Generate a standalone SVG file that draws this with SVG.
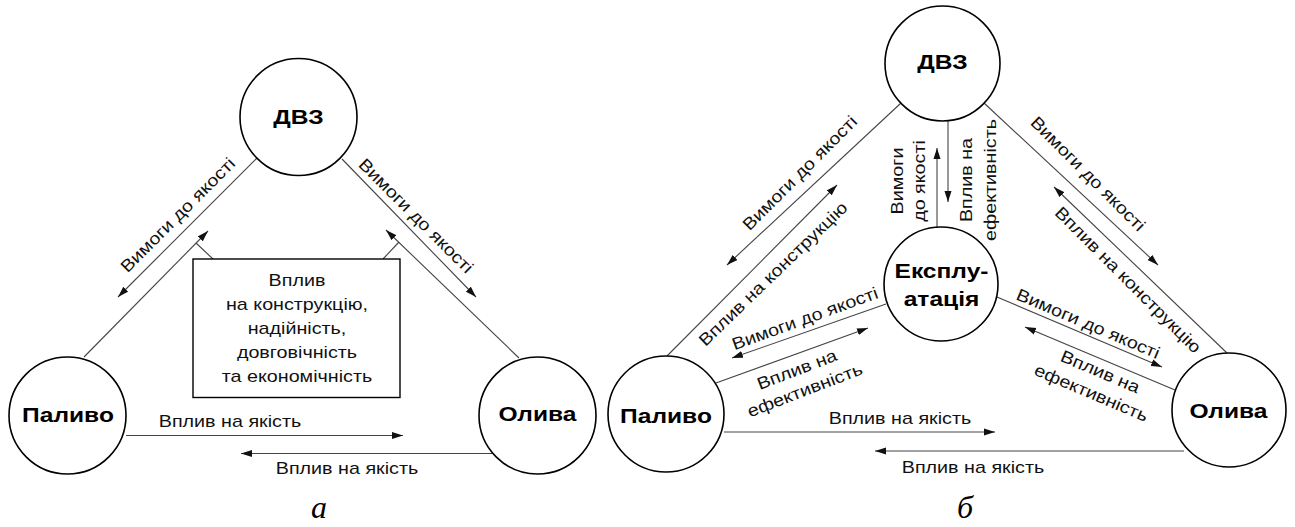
<svg xmlns="http://www.w3.org/2000/svg" width="1295" height="527" viewBox="0 0 1295 527">
<style>
.bg{fill:#fff}
.node{fill:#fff;stroke:#000;stroke-width:1.6}
.box{fill:#fff;stroke:#000;stroke-width:1.4}
.c{fill:none;stroke:#444;stroke-width:1.1}
.ca{fill:none;stroke:#444;stroke-width:1.1;marker-end:url(#ah)}
.t{font-family:"Liberation Sans",Arial,sans-serif;font-size:17px;fill:#111;text-anchor:middle}
.b{font-family:"Liberation Sans",Arial,sans-serif;font-size:21px;font-weight:bold;fill:#000;text-anchor:middle}
.cap{font-family:"Liberation Serif","Times New Roman",serif;font-size:32px;font-style:italic;fill:#000;text-anchor:middle}
</style>
<defs>
<marker id="ah" markerUnits="userSpaceOnUse" markerWidth="12" markerHeight="8" refX="11" refY="4" orient="auto">
<path d="M0,0.5 L11,4 L0,7.5 z" fill="#111"/>
</marker>
</defs>
<rect class="bg" x="0" y="0" width="1295" height="527"/>

<g id="connectors">
<path class="ca" d="M257,158 L118,297"/>
<path class="ca" d="M84,357 L208,231"/>
<path class="c" d="M213,259 L196,243"/>
<path class="ca" d="M342,159 L476,297"/>
<path class="ca" d="M519,358 L386,230"/>
<path class="c" d="M383,259 L399,242"/>
<path class="ca" d="M126,435.5 L403,435.5"/>
<path class="ca" d="M492,453.5 L241,453.5"/>
<path class="ca" d="M901,103 L727,265"/>
<path class="ca" d="M667,356 L837,185"/>
<path class="ca" d="M984,103 L1158,265"/>
<path class="ca" d="M1227,353 L1054,187"/>
<path class="ca" d="M937,227 L937,148"/>
<path class="ca" d="M948,121 L948,202"/>
<path class="ca" d="M886,304 L732,358"/>
<path class="ca" d="M716,383 L868,328"/>
<path class="ca" d="M997,297 L1162,367"/>
<path class="ca" d="M1175,390 L1025,327"/>
<path class="ca" d="M724,432 L995,432"/>
<path class="ca" d="M1184,451 L875,451"/>
</g>

<g id="labels">
<text class="t" transform="translate(182,219) rotate(-45) scale(1.16,1)">Вимоги до якості</text>
<text class="t" transform="translate(412,220) rotate(45) scale(1.16,1)">Вимоги до якості</text>
<text class="t" transform="translate(230,427) scale(1.16,1)">Вплив на якість</text>
<text class="t" transform="translate(347,474) scale(1.16,1)">Вплив на якість</text>

<text class="t" transform="translate(804,177) rotate(-45) scale(1.16,1)">Вимоги до якості</text>
<text class="t" transform="translate(777,278) rotate(-44) scale(1.16,1)">Вплив на конструкцію</text>
<text class="t" transform="translate(1084,178) rotate(45) scale(1.16,1)">Вимоги до якості</text>
<text class="t" transform="translate(1124,284) rotate(45) scale(1.16,1)">Вплив на конструкцію</text>

<text class="t" transform="translate(903,181) rotate(-90) scale(1.16,1)">Вимоги</text>
<text class="t" transform="translate(925,181) rotate(-90) scale(1.16,1)">до якості</text>
<text class="t" transform="translate(972,180) rotate(-90) scale(1.16,1)">Вплив на</text>
<text class="t" transform="translate(996,180) rotate(-90) scale(1.16,1)">ефективність</text>

<text class="t" transform="translate(807,324) rotate(-20) scale(1.16,1)">Вимоги до якості</text>
<text class="t" transform="translate(799,375) rotate(-21) scale(1.16,1)"><tspan x="0" y="0">Вплив на</tspan><tspan x="0" y="22">ефективність</tspan></text>
<text class="t" transform="translate(1086,329) rotate(23) scale(1.16,1)">Вимоги до якості</text>
<text class="t" transform="translate(1098,377) rotate(23) scale(1.16,1)"><tspan x="0" y="0">Вплив на</tspan><tspan x="0" y="23">ефективність</tspan></text>

<text class="t" transform="translate(900,424) scale(1.16,1)">Вплив на якість</text>
<text class="t" transform="translate(973,473) scale(1.16,1)">Вплив на якість</text>
</g>

<g id="node-box">
<rect class="box" x="193" y="259" width="207" height="138.5"/>
<text class="t" transform="translate(297,286) scale(1.16,1)">Вплив</text>
<text class="t" transform="translate(297,310) scale(1.16,1)">на конструкцію,</text>
<text class="t" transform="translate(297,334) scale(1.16,1)">надійність,</text>
<text class="t" transform="translate(297,358) scale(1.16,1)">довговічність</text>
<text class="t" transform="translate(297,382) scale(1.16,1)">та економічність</text>
</g>

<g id="node-dvz-a">
<circle class="node" cx="298.5" cy="117" r="58.5"/>
<text class="b" transform="translate(298.5,123.5) scale(1.17,1)">ДВЗ</text>
</g>
<g id="node-palyvo-a">
<circle class="node" cx="67.5" cy="415.5" r="58.5"/>
<text class="b" transform="translate(68,421.5) scale(1.17,1)">Паливо</text>
</g>
<g id="node-olyva-a">
<circle class="node" cx="537.5" cy="415.5" r="58.5"/>
<text class="b" transform="translate(537.5,421) scale(1.17,1)">Олива</text>
</g>

<g id="node-dvz-b">
<circle class="node" cx="942.5" cy="63.5" r="57.5"/>
<text class="b" transform="translate(942.5,69) scale(1.17,1)">ДВЗ</text>
</g>
<g id="node-ekspl-b">
<circle class="node" cx="941" cy="284" r="57"/>
<text class="b" transform="translate(941.5,278) scale(1.17,1)">Експлу-</text>
<text class="b" transform="translate(941.5,306) scale(1.17,1)">атація</text>
</g>
<g id="node-palyvo-b">
<circle class="node" cx="666" cy="414" r="58"/>
<text class="b" transform="translate(666,423) scale(1.17,1)">Паливо</text>
</g>
<g id="node-olyva-b">
<circle class="node" cx="1229" cy="410" r="57"/>
<text class="b" transform="translate(1228.5,418) scale(1.17,1)">Олива</text>
</g>

<text class="cap" x="319" y="518">а</text>
<text class="cap" x="965" y="518">б</text>
</svg>
